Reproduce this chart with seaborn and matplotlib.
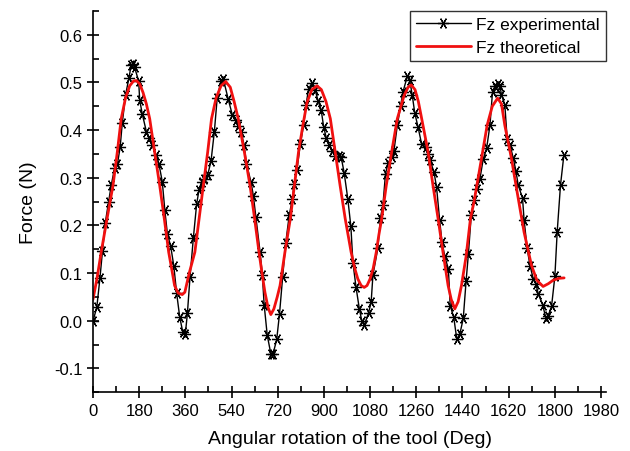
import numpy as np
import pandas as pd
import matplotlib
matplotlib.use("Agg")
import matplotlib.pyplot as plt
import seaborn as sns

# experimental Fz (deg, N)
exp_deg = [0, 15, 27, 37, 48, 61, 71, 84, 95, 106, 114, 127, 140, 149, 155, 162, 178, 182, 192, 208,
           218, 230, 247, 257, 270, 280, 290, 303, 315, 326, 338, 350, 360, 368, 378, 391, 404, 413, 423, 434,
           447, 460, 473, 484, 499, 508, 527, 543, 556, 566, 577, 589, 598, 616, 625, 635, 651, 660, 667, 679,
           693, 702, 716, 727, 739, 751, 765, 777, 784, 795, 808, 821, 830, 840, 853, 866, 877, 889, 899, 909,
           920, 931, 944, 960, 967, 979, 993, 1005, 1013, 1025, 1038, 1048, 1058, 1074, 1084, 1091, 1110, 1120, 1130, 1140,
           1151, 1164, 1173, 1186, 1199, 1208, 1225, 1234, 1244, 1254, 1267, 1281, 1296, 1305, 1313, 1329, 1339, 1351, 1360, 1371,
           1385, 1392, 1406, 1418, 1430, 1443, 1454, 1463, 1474, 1485, 1495, 1508, 1521, 1534, 1547, 1557, 1566, 1577, 1586, 1592,
           1605, 1614, 1625, 1638, 1648, 1657, 1674, 1680, 1692, 1703, 1716, 1726, 1735, 1752, 1765, 1774, 1787, 1800, 1809, 1822,
           1835]
exp_fz = [-0.001, 0.029, 0.089, 0.146, 0.206, 0.25, 0.284, 0.32, 0.328, 0.365, 0.414, 0.474, 0.509, 0.537, 0.538, 0.532, 0.503, 0.463, 0.434, 0.397,
          0.383, 0.369, 0.347, 0.329, 0.292, 0.232, 0.182, 0.156, 0.115, 0.058, 0.008, -0.024, -0.027, 0.016, 0.091, 0.173, 0.245, 0.274, 0.292, 0.298,
          0.306, 0.335, 0.397, 0.467, 0.504, 0.507, 0.465, 0.432, 0.421, 0.409, 0.396, 0.369, 0.329, 0.291, 0.262, 0.217, 0.145, 0.096, 0.034, -0.03,
          -0.069, -0.069, -0.039, 0.015, 0.091, 0.163, 0.222, 0.256, 0.287, 0.317, 0.371, 0.411, 0.452, 0.486, 0.499, 0.484, 0.462, 0.443, 0.407, 0.384,
          0.369, 0.357, 0.345, 0.345, 0.344, 0.31, 0.256, 0.198, 0.122, 0.071, 0.025, -0.001, -0.008, 0.017, 0.039, 0.096, 0.152, 0.215, 0.243, 0.309,
          0.332, 0.344, 0.357, 0.41, 0.451, 0.48, 0.513, 0.506, 0.474, 0.436, 0.406, 0.37, 0.364, 0.35, 0.338, 0.312, 0.28, 0.211, 0.166, 0.135,
          0.109, 0.032, 0.007, -0.039, -0.027, 0.005, 0.083, 0.14, 0.221, 0.254, 0.277, 0.298, 0.34, 0.362, 0.41, 0.48, 0.492, 0.497, 0.493, 0.474,
          0.453, 0.382, 0.369, 0.341, 0.315, 0.285, 0.257, 0.212, 0.152, 0.116, 0.088, 0.078, 0.057, 0.034, 0.006, 0.011, 0.03, 0.093, 0.186, 0.285,
          0.347]

# theoretical Fz
theo_deg = [0, 16, 32, 55, 78, 95, 110, 127, 143, 158, 169, 182, 195, 208, 221, 240, 260, 278, 295, 308,
            318, 332, 348, 358, 375, 397, 430, 447, 462, 480, 499, 517, 535, 550, 566, 590, 612, 630, 647, 660,
            670, 682, 693, 705, 718, 729, 748, 769, 785, 801, 818, 834, 853, 873, 890, 908, 925, 944, 963, 983,
            1006, 1020, 1032, 1045, 1057, 1068, 1080, 1092, 1104, 1114, 1125, 1143, 1164, 1186, 1212, 1228, 1240, 1255, 1268, 1281,
            1306, 1325, 1345, 1364, 1384, 1396, 1410, 1423, 1436, 1454, 1471, 1485, 1514, 1536, 1556, 1577, 1592, 1605, 1631, 1653,
            1680, 1709, 1730, 1754, 1775, 1793, 1815, 1836]
theo_fz = [0.045, 0.09, 0.144, 0.215, 0.284, 0.355, 0.424, 0.468, 0.493, 0.503, 0.504, 0.497, 0.479, 0.455, 0.424, 0.355, 0.284, 0.214, 0.144, 0.105,
           0.074, 0.058, 0.055, 0.06, 0.1, 0.144, 0.284, 0.354, 0.424, 0.468, 0.493, 0.502, 0.49, 0.46, 0.424, 0.354, 0.284, 0.214, 0.144, 0.095,
           0.06, 0.028, 0.013, 0.025, 0.05, 0.074, 0.144, 0.214, 0.284, 0.354, 0.41, 0.458, 0.485, 0.493, 0.485, 0.46, 0.424, 0.354, 0.284, 0.214,
           0.144, 0.11, 0.088, 0.074, 0.07, 0.074, 0.088, 0.11, 0.144, 0.18, 0.214, 0.284, 0.354, 0.424, 0.472, 0.49, 0.495, 0.485, 0.46, 0.424,
           0.354, 0.284, 0.214, 0.144, 0.074, 0.045, 0.025, 0.04, 0.074, 0.135, 0.214, 0.25, 0.34, 0.41, 0.45, 0.467, 0.455, 0.41, 0.34, 0.27,
           0.186, 0.116, 0.085, 0.072, 0.078, 0.085, 0.089, 0.09]

x_ticks = [0, 180, 360, 540, 720, 900, 1080, 1260, 1440, 1620, 1800, 1980]
y_ticks = [-0.1, 0.0, 0.1, 0.2, 0.3, 0.4, 0.5, 0.6]

df_exp = pd.DataFrame({"deg": exp_deg, "fz": exp_fz})
df_theo = pd.DataFrame({"deg": theo_deg, "fz": theo_fz})

sns.set_style("ticks")
plt.rcParams["font.family"] = ["Liberation Sans", "DejaVu Sans"]
plt.rcParams["axes.unicode_minus"] = False
plt.rcParams["axes.labelcolor"] = "black"
plt.rcParams["text.color"] = "black"

fig = plt.figure(figsize=(6.3, 4.52), dpi=100)
ax = fig.add_axes([0.1476, 0.1299, 0.8146, 0.8436])

sns.lineplot(data=df_exp, x="deg", y="fz", ax=ax, sort=False, estimator=None,
             color="black", linewidth=1.0, marker=(6, 2, 90), markersize=8,
             markeredgecolor="black", markeredgewidth=0.9, label="Fz experimental")
sns.lineplot(data=df_theo, x="deg", y="fz", ax=ax, sort=False, estimator=None,
             color="#f01010", linewidth=2.0, label="Fz theoretical")

ax.set_xlim(0, 2000)
ax.set_ylim(-0.15, 0.65)
ax.set_xticks(x_ticks)
ax.set_yticks(y_ticks)
ax.set_yticklabels([f"{v:.1f}" for v in y_ticks])
ax.set_xticks(np.arange(90, 2000, 180), minor=True)
ax.set_yticks(np.arange(-0.15, 0.651, 0.1), minor=True)
ax.tick_params(axis="both", which="major", direction="inout", length=8, width=1.2,
               labelsize=12, colors="black")
ax.tick_params(axis="both", which="minor", direction="in", length=4, width=1.2, colors="black")

for s in ["top", "right"]:
    ax.spines[s].set_visible(False)
for s in ["left", "bottom"]:
    ax.spines[s].set_linewidth(1.2)
    ax.spines[s].set_color("black")

ax.set_xlabel("Angular rotation of the tool (Deg)", fontsize=14, labelpad=9, color="black")
ax.set_ylabel("Force (N)", fontsize=14, labelpad=12, color="black")

leg = ax.legend(loc="upper right", bbox_to_anchor=(1.0, 1.0), borderaxespad=0,
                fontsize=12.5, frameon=True, fancybox=False, handlelength=3.2,
                handletextpad=0.3, borderpad=0.35, labelspacing=0.45)
leg.get_frame().set_edgecolor("black")
leg.get_frame().set_linewidth(1.0)

fig.savefig("out.png", dpi=100)
